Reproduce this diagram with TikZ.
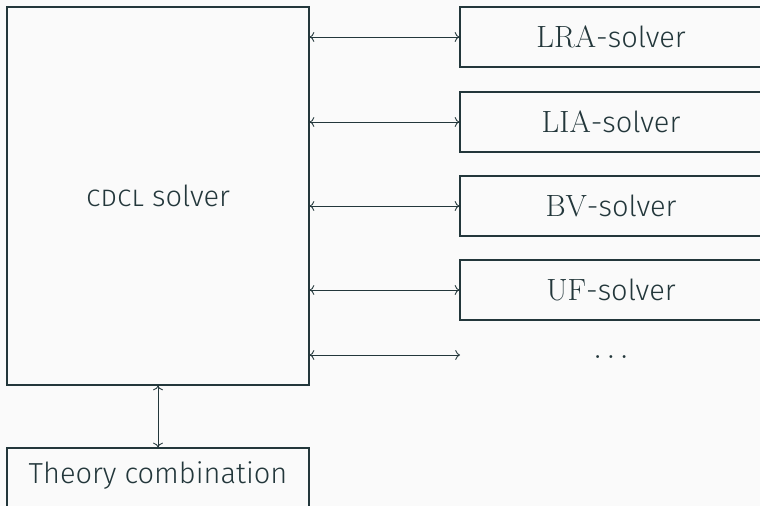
\documentclass[tikz,border=0pt]{standalone}
\usepackage{fontspec}
\usepackage{tikz}
\usetikzlibrary{arrows.meta,positioning}
\newfontfamily\firafont{Fira Sans Light}
\definecolor{DarkTeal}{RGB}{35,55,59}
\definecolor{PaleBack}{RGB}{250,250,250}

\begin{document}
\begin{tikzpicture}[
  x=0.02cm, y=-0.02cm,
  box/.style={
    draw=DarkTeal,
    text=DarkTeal,
    line width=0.7pt,
    align=center,
    inner sep=0pt
  },
  solver/.style={
    box,
    minimum width=6.04cm,
    minimum height=1.2cm
  },
  arr/.style={<->, draw=DarkTeal, line width=0.5pt},
  font=\firafont\fontsize{16.5}{19}\selectfont
]
\fill[PaleBack] (0,0) rectangle (760,506);
\clip (0,0) rectangle (760,506);

\node[box, minimum width=6.04cm, minimum height=7.56cm] (cdcl) at (158,196) {\textsc{cdcl} solver};
\node[box, minimum width=6.04cm, minimum height=2cm] (theory) at (158,498) {};
\node[text=DarkTeal] (theorylabel) at (158,476) {Theory combination};

\node[solver] (lra) at (611,37) {{\rmfamily\fontsize{17.5}{19}\selectfont LRA}-solver};
\node[solver] (lia) at (611,122) {{\rmfamily\fontsize{17.5}{19}\selectfont LIA}-solver};
\node[solver] (bv) at (611,206) {{\rmfamily\fontsize{17.5}{19}\selectfont BV}-solver};
\node[solver] (uf) at (611,290) {{\rmfamily\fontsize{17.5}{19}\selectfont UF}-solver};
\node[text=DarkTeal] (dots) at (611,357) {$\dots$};
\coordinate (more) at (460,355);

\draw[arr] (cdcl.east |- lra.west) -- (lra.west);
\draw[arr] (cdcl.east |- lia.west) -- (lia.west);
\draw[arr] (cdcl.east |- bv.west) -- (bv.west);
\draw[arr] (cdcl.east |- uf.west) -- (uf.west);
\draw[arr] (cdcl.east |- more) -- (more);
\draw[arr] (cdcl.south) -- (theory.north);
\end{tikzpicture}
\end{document}
